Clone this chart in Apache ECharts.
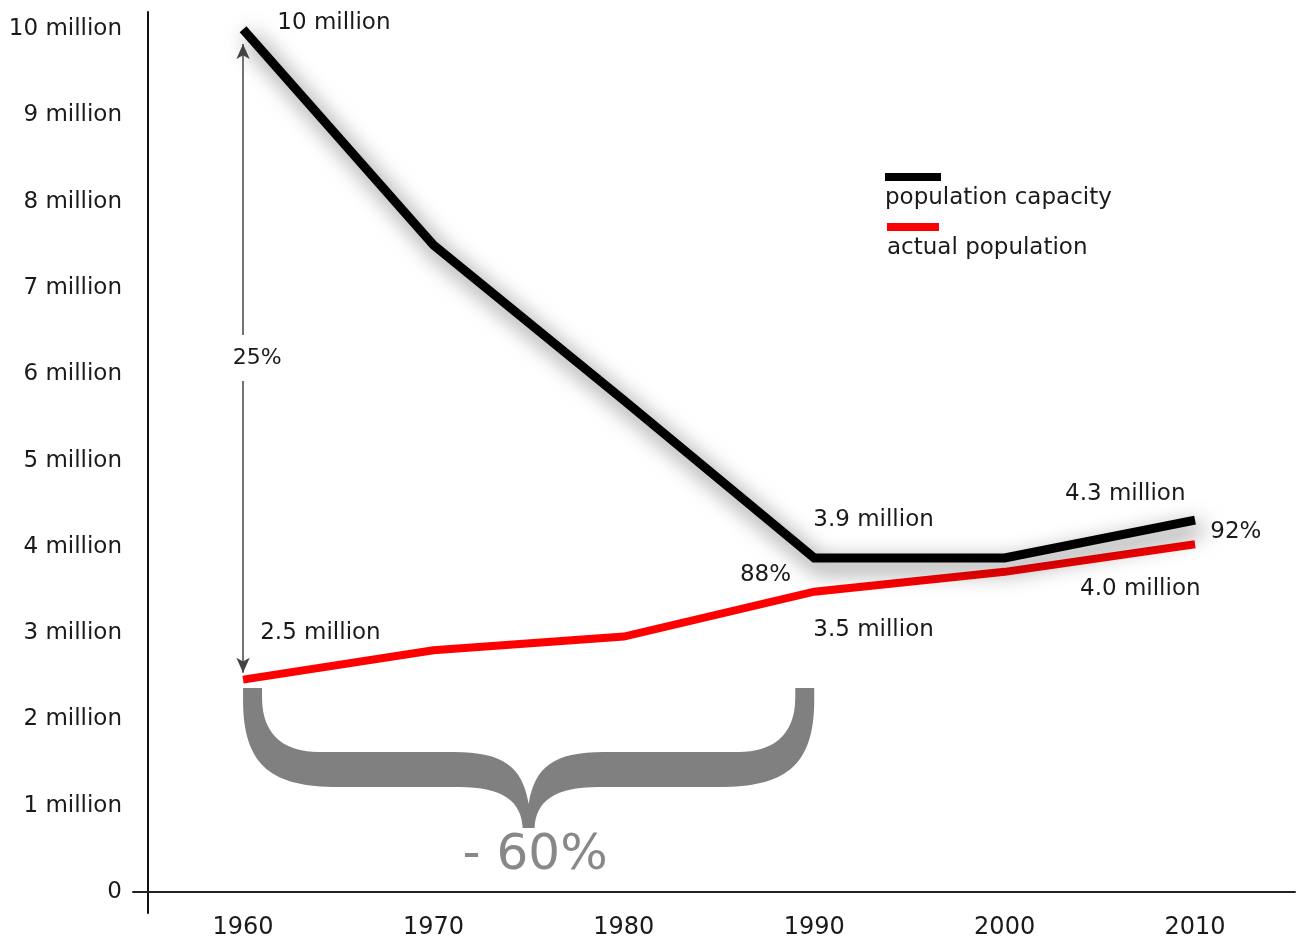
<!DOCTYPE html>
<html>
<head>
<meta charset="utf-8">
<script src="https://cdn.jsdelivr.net/npm/echarts@6/dist/echarts.min.js"></script>
<style>
  html, body { margin: 0; padding: 0; background: #fff; }
  #main { width: 1307px; height: 940px; }
</style>
</head>
<body>
<div id="main"></div>
<script>
// years and values (million people)
var years = [1960, 1970, 1980, 1990, 2000, 2010];
var capacity = [10, 7.5, 5.7, 3.87, 3.87, 4.31];
var actual = [2.46, 2.8, 2.96, 3.48, 3.71, 4.03];
var yTicks = [0, 1, 2, 3, 4, 5, 6, 7, 8, 9, 10];
var yTickLabels = ['0', '1 million', '2 million', '3 million', '4 million', '5 million',
  '6 million', '7 million', '8 million', '9 million', '10 million'];

// text notes: [year, value, text]
var notes = [
  [1961.8, 10.07, '10 million'],
  [1960.9, 3.0, '2.5 million'],
  [1989.95, 4.31, '3.9 million'],
  [1986.1, 3.67, '88%'],
  [1989.95, 3.04, '3.5 million'],
  [2003.17, 4.61, '4.3 million'],
  [2010.8, 4.17, '92%'],
  [2003.96, 3.51, '4.0 million']
];
// brace span (years)
var braceSpan = [1960, 1990];

var FONT = 'DejaVu Sans';
var TXT = '#1a1a1a';
var chart = echarts.init(document.getElementById('main'));

function pairs(xs, ys) {
  return xs.map(function (x, i) { return [x, ys[i]]; });
}

function renderBrace(params, api) {
  var a = api.coord([api.value(0), 0]);
  var b = api.coord([api.value(1), 0]);
  var L = a[0], R = b[0], M = (L + R) / 2;
  var T = 688, bt = 752, bb = 787, cusp = 804, tb = 828, w = 19;
  var d = [
    'M', L, T,
    'L', L, T + 12,
    'C', L, bb - 20, L + 30, bb, L + 95, bb,
    'L', M - 70, bb,
    'C', M - 25, bb, M - 7, bb + 15, M - 6, tb,
    'L', M + 6, tb,
    'C', M + 7, bb + 15, M + 25, bb, M + 70, bb,
    'L', R - 95, bb,
    'C', R - 30, bb, R, bb - 20, R, T + 12,
    'L', R, T,
    'L', R - w, T,
    'L', R - w, T + 10,
    'C', R - w, bt - 15, R - w - 25, bt, R - 75, bt,
    'L', M + 75, bt,
    'C', M + 25, bt, M + 6, bt + 15, M, cusp,
    'C', M - 6, bt + 15, M - 25, bt, M - 75, bt,
    'L', L + 75, bt,
    'C', L + w + 25, bt, L + w, bt - 15, L + w, T + 10,
    'L', L + w, T,
    'Z'
  ].join(' ');
  return { type: 'path', shape: { pathData: d }, style: { fill: '#808080' } };
}

chart.setOption({
  backgroundColor: '#fff',
  animation: false,
  grid: { left: 133, right: 12, top: 12, bottom: 27, outerBoundsMode: 'none', containLabel: false },
  xAxis: {
    type: 'value',
    min: 1954.22,
    max: 2015.25,
    axisLine: { onZero: true, lineStyle: { color: '#222', width: 2 } },
    axisTick: { show: false },
    splitLine: { show: false },
    axisLabel: {
      customValues: years,
      margin: 3,
      color: TXT,
      fontFamily: FONT,
      fontSize: 24,
      formatter: function (v) { return String(Math.round(v)); }
    }
  },
  yAxis: {
    type: 'value',
    min: -0.245,
    max: 10.2,
    offset: -15,
    axisLine: { show: true, onZero: false, lineStyle: { color: '#111', width: 2 } },
    axisTick: { show: false },
    splitLine: { show: false },
    axisLabel: {
      customValues: yTicks,
      margin: 26,
      color: TXT,
      fontFamily: FONT,
      fontSize: 23,
      padding: [8, 0, 0, 0],
      formatter: function (v) {
        var i = yTicks.indexOf(Math.round(v));
        return i >= 0 ? yTickLabels[i] : '';
      }
    }
  },
  series: [
    {
      name: 'brace',
      type: 'custom',
      renderItem: renderBrace,
      data: [braceSpan],
      silent: true,
      z: 1
    },
    {
      name: 'actual population',
      type: 'line',
      data: pairs(years, actual),
      symbol: 'none',
      lineStyle: { color: '#ff0000', width: 8, cap: 'butt', join: 'miter' },
      z: 3
    },
    {
      name: 'population capacity',
      type: 'line',
      data: pairs(years, capacity),
      symbol: 'none',
      lineStyle: {
        color: '#000', width: 9, cap: 'butt', join: 'miter',
        shadowColor: 'rgba(0,0,0,0.6)', shadowBlur: 22, shadowOffsetX: 6, shadowOffsetY: 8
      },
      z: 4,
      markLine: {
        silent: true,
        symbol: ['arrow', 'arrow'],
        symbolSize: [10, 15],
        label: { show: false },
        lineStyle: { color: '#444', width: 1.5, type: 'solid', shadowBlur: 0, shadowColor: 'transparent' },
        data: [[{ coord: [1960, 9.83] }, { coord: [1960, 2.54] }]]
      }
    }
  ]
});

// annotations placed from data coordinates
function px(x, y) { return chart.convertToPixel({ gridIndex: 0 }, [x, y]); }

var graphics = [];
notes.forEach(function (n) {
  var p = px(n[0], n[1]);
  graphics.push({
    type: 'text', x: p[0], y: p[1], z: 20,
    style: { text: n[2], fill: TXT, fontFamily: FONT, fontSize: 23, align: 'left', verticalAlign: 'middle' }
  });
});

var pc = px(1960.74, 6.19);
graphics.push({
  type: 'text', x: pc[0], y: pc[1], z: 20,
  style: {
    text: '25%', fill: TXT, fontFamily: FONT, fontSize: 22, align: 'center', verticalAlign: 'middle',
    backgroundColor: '#fff', padding: [12, 4]
  }
});

var p60 = px(1975.34, 0.42);
graphics.push({
  type: 'text', x: p60[0], y: p60[1], z: 20,
  style: { text: '- 60%', fill: '#888', fontFamily: FONT, fontSize: 50, align: 'center', verticalAlign: 'middle' }
});

// legend: bar above the text
graphics.push(
  { type: 'rect', shape: { x: 885, y: 173, width: 56, height: 8 }, style: { fill: '#000' }, z: 20 },
  { type: 'text', x: 885, y: 198, z: 20,
    style: { text: 'population capacity', fill: TXT, fontFamily: FONT, fontSize: 23, verticalAlign: 'middle' } },
  { type: 'rect', shape: { x: 887, y: 223, width: 52, height: 8 }, style: { fill: '#ff0000' }, z: 20 },
  { type: 'text', x: 887, y: 248, z: 20,
    style: { text: 'actual population', fill: TXT, fontFamily: FONT, fontSize: 23, verticalAlign: 'middle' } }
);

chart.setOption({ graphic: graphics });
</script>
</body>
</html>
